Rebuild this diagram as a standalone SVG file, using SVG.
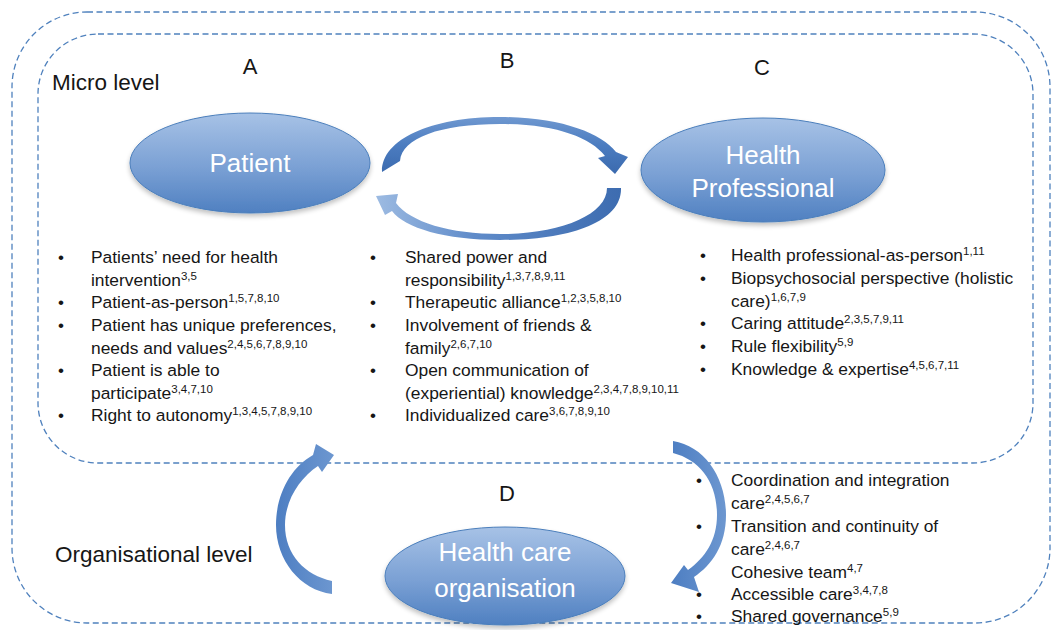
<svg xmlns="http://www.w3.org/2000/svg" width="1054" height="630" viewBox="0 0 1054 630">
  <defs>
    <linearGradient id="ellFill" x1="0" y1="0" x2="0" y2="1">
      <stop offset="0" stop-color="#a7c2e6"/>
      <stop offset="0.55" stop-color="#7aa0d4"/>
      <stop offset="1" stop-color="#4f80c1"/>
    </linearGradient>
    <linearGradient id="arrowDark" x1="0" y1="0" x2="0" y2="1">
      <stop offset="0" stop-color="#6f98d0"/>
      <stop offset="0.5" stop-color="#4b7cc0"/>
      <stop offset="1" stop-color="#3b6aae"/>
    </linearGradient>
    <linearGradient id="arrowBottom" x1="1" y1="0" x2="0" y2="0">
      <stop offset="0" stop-color="#3d6cb0"/>
      <stop offset="0.6" stop-color="#5f8bc9"/>
      <stop offset="1" stop-color="#9dbbe2"/>
    </linearGradient>
    <linearGradient id="arrowSide" x1="0" y1="0" x2="1" y2="0">
      <stop offset="0" stop-color="#4d7ec2"/>
      <stop offset="1" stop-color="#6d97d0"/>
    </linearGradient>
    <filter id="soft" x="-10%" y="-10%" width="120%" height="130%">
      <feGaussianBlur in="SourceAlpha" stdDeviation="2.5"/>
      <feOffset dy="3"/>
      <feComponentTransfer><feFuncA type="linear" slope="0.25"/></feComponentTransfer>
      <feMerge><feMergeNode/><feMergeNode in="SourceGraphic"/></feMerge>
    </filter>
  </defs>
  <style>
    .frame { fill: none; stroke: #4f81bd; stroke-width: 1.3; stroke-dasharray: 6 3.5; }
    .ell { fill: url(#ellFill); stroke: #4a7ebb; stroke-width: 1; filter: url(#soft); }
    .ell-label { font-family: "Liberation Sans", Arial, sans-serif; font-size: 26px; fill: #ffffff; text-anchor: middle; }
    .letter { font-family: "Liberation Sans", Arial, sans-serif; font-size: 22px; fill: #161616; text-anchor: middle; }
    .level { font-family: "Liberation Sans", Arial, sans-serif; font-size: 22.5px; fill: #161616; }
    .item { font-family: "Liberation Sans", Arial, sans-serif; font-size: 17.4px; fill: #161616; }
    .sup { font-size: 11.5px; }
    .bullet { font-family: "Liberation Sans", Arial, sans-serif; font-size: 17px; fill: #161616; text-anchor: middle; }
  </style>

  <rect id="background" x="0" y="0" width="1054" height="630" fill="#ffffff"/>

  <!-- level boundaries -->
  <g id="frames">
    <rect id="organisational-frame" class="frame" x="12" y="12" width="1038" height="611" rx="75" ry="75"/>
    <rect id="micro-frame" class="frame" x="38" y="34" width="995" height="429" rx="60" ry="60"/>
  </g>

  <g id="level-labels">
    <text class="level" x="52" y="90" font-size="22px">Micro level</text>
    <text class="level" x="55" y="562">Organisational level</text>
  </g>

  <g id="letters">
    <text class="letter" x="250" y="74">A</text>
    <text class="letter" x="507" y="68">B</text>
    <text class="letter" x="762" y="75">C</text>
    <text class="letter" x="507" y="501">D</text>
  </g>

  <!-- curved arrows -->
  <g id="connectors">
    <path id="arrow-a-to-c" fill="url(#arrowDark)" d="M 382,172 C 381,140 430,117 500,117 C 560,117 601,133 616,152 L 628,157 L 615,174 L 598,158 L 605,156 C 590,137 555,124 500,124 C 440,124 402,138 400,161 Z"/>
    <path id="arrow-c-to-a" fill="url(#arrowBottom)" d="M 621,188 C 622,222 570,240 500,240 C 445,240 405,228 392,211 L 385,215 L 376,196 L 398,194 L 396,203 C 410,222 450,234 500,234 C 560,234 607,215 607,188 Z"/>
    <path id="arrow-d-to-a" fill="url(#arrowSide)" d="M 332,594 C 300,590 276,560 276,525 C 276,495 290,468 313,455 L 316,444 L 334,455 L 322,472 L 318,466 C 300,478 285,500 285,525 C 285,555 305,575 332,581 Z"/>
    <path id="arrow-c-to-d" fill="url(#arrowSide)" d="M 673,441 C 705,446 726,478 726,515 C 726,545 712,565 694,577 L 699,592 L 671,583 L 684,565 L 688,570 C 705,558 717,540 717,515 C 717,482 700,460 673,453 Z"/>
  </g>

  <!-- A: patient -->
  <g id="node-patient">
    <ellipse class="ell" cx="250" cy="163" rx="120" ry="50"/>
    <text class="ell-label" x="250" y="172">Patient</text>
  </g>

  <!-- C: health professional -->
  <g id="node-health-professional">
    <ellipse class="ell" cx="763" cy="170" rx="122" ry="52"/>
    <text class="ell-label" x="763" y="164">Health</text>
    <text class="ell-label" x="763" y="197">Professional</text>
  </g>

  <!-- D: health care organisation -->
  <g id="node-health-care-organisation">
    <ellipse class="ell" cx="505" cy="576" rx="120" ry="49"/>
    <text class="ell-label" x="505" y="561">Health care</text>
    <text class="ell-label" x="505" y="597">organisation</text>
  </g>

  <!-- patient factors -->
  <g id="list-patient">
    <text class="bullet" x="61" y="263">•</text>
    <text class="bullet" x="61" y="308">•</text>
    <text class="bullet" x="61" y="331">•</text>
    <text class="bullet" x="61" y="376">•</text>
    <text class="bullet" x="61" y="421">•</text>
    <text class="item" x="91" y="263">Patients’ need for health</text>
    <text class="item" x="91" y="285.5">intervention<tspan class="sup" dy="-6">3,5</tspan></text>
    <text class="item" x="91" y="308">Patient-as-person<tspan class="sup" dy="-6">1,5,7,8,10</tspan></text>
    <text class="item" x="91" y="331">Patient has unique preferences,</text>
    <text class="item" x="91" y="353.5">needs and values<tspan class="sup" dy="-6">2,4,5,6,7,8,9,10</tspan></text>
    <text class="item" x="91" y="376">Patient is able to</text>
    <text class="item" x="91" y="398.5">participate<tspan class="sup" dy="-6">3,4,7,10</tspan></text>
    <text class="item" x="91" y="421">Right to autonomy<tspan class="sup" dy="-6">1,3,4,5,7,8,9,10</tspan></text>
  </g>

  <!-- relationship factors -->
  <g id="list-relationship">
    <text class="bullet" x="373" y="263">•</text>
    <text class="bullet" x="373" y="308">•</text>
    <text class="bullet" x="373" y="331">•</text>
    <text class="bullet" x="373" y="376">•</text>
    <text class="bullet" x="373" y="421">•</text>
    <text class="item" x="405" y="263">Shared power and</text>
    <text class="item" x="405" y="285.5">responsibility<tspan class="sup" dy="-6">1,3,7,8,9,11</tspan></text>
    <text class="item" x="405" y="308">Therapeutic alliance<tspan class="sup" dy="-6">1,2,3,5,8,10</tspan></text>
    <text class="item" x="405" y="331">Involvement of friends &amp;</text>
    <text class="item" x="405" y="353.5">family<tspan class="sup" dy="-6">2,6,7,10</tspan></text>
    <text class="item" x="405" y="376">Open communication of</text>
    <text class="item" x="405" y="398.5">(experiential) knowledge<tspan class="sup" dy="-6">2,3,4,7,8,9,10,11</tspan></text>
    <text class="item" x="405" y="421">Individualized care<tspan class="sup" dy="-6">3,6,7,8,9,10</tspan></text>
  </g>

  <!-- health professional factors -->
  <g id="list-professional">
    <text class="bullet" x="703" y="261">•</text>
    <text class="bullet" x="703" y="284">•</text>
    <text class="bullet" x="703" y="329">•</text>
    <text class="bullet" x="703" y="352">•</text>
    <text class="bullet" x="703" y="375">•</text>
    <text class="item" x="731" y="261">Health professional-as-person<tspan class="sup" dy="-6">1,11</tspan></text>
    <text class="item" x="731" y="284">Biopsychosocial perspective (holistic</text>
    <text class="item" x="731" y="306.5">care)<tspan class="sup" dy="-6">1,6,7,9</tspan></text>
    <text class="item" x="731" y="329">Caring attitude<tspan class="sup" dy="-6">2,3,5,7,9,11</tspan></text>
    <text class="item" x="731" y="352">Rule flexibility<tspan class="sup" dy="-6">5,9</tspan></text>
    <text class="item" x="731" y="375">Knowledge &amp; expertise<tspan class="sup" dy="-6">4,5,6,7,11</tspan></text>
  </g>

  <!-- organisational factors -->
  <g id="list-organisation">
    <text class="bullet" x="699" y="486">•</text>
    <text class="bullet" x="699" y="532">•</text>
    <text class="bullet" x="699" y="600">•</text>
    <text class="bullet" x="699" y="622">•</text>
    <text class="item" x="731" y="486">Coordination and integration</text>
    <text class="item" x="731" y="509">care<tspan class="sup" dy="-6">2,4,5,6,7</tspan></text>
    <text class="item" x="731" y="532">Transition and continuity of</text>
    <text class="item" x="731" y="555">care<tspan class="sup" dy="-6">2,4,6,7</tspan></text>
    <text class="item" x="731" y="578">Cohesive team<tspan class="sup" dy="-6">4,7</tspan></text>
    <text class="item" x="731" y="600">Accessible care<tspan class="sup" dy="-6">3,4,7,8</tspan></text>
    <text class="item" x="731" y="622">Shared governance<tspan class="sup" dy="-6">5,9</tspan></text>
  </g>
</svg>
